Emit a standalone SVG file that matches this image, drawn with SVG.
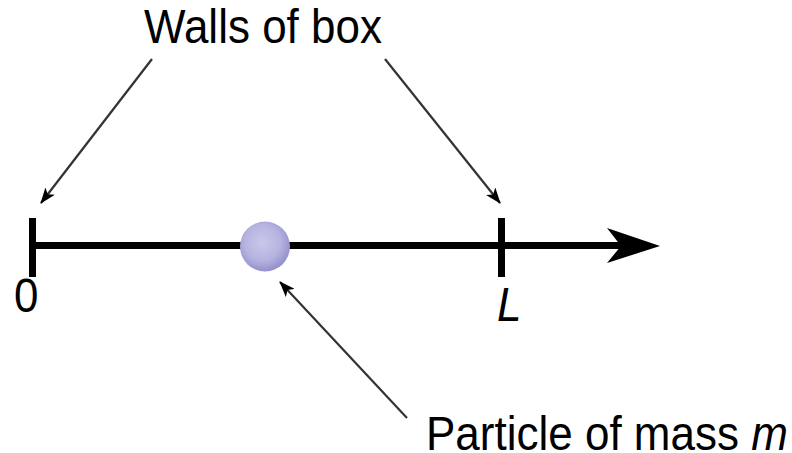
<svg xmlns="http://www.w3.org/2000/svg" width="792" height="453" viewBox="0 0 792 453">
  <style>
    .lbl { font-family: "Liberation Sans", Arial, sans-serif; font-size: 44px; fill: #000; }
    .axis { stroke: #000; stroke-width: 7; fill: none; }
    .ptr { stroke: #333; stroke-width: 2.2; fill: none; marker-end: url(#head); }
  </style>
  <defs>
    <marker id="head" viewBox="0 0 16 12" refX="15" refY="6" markerWidth="16" markerHeight="12" markerUnits="userSpaceOnUse" orient="auto">
      <path d="M0,0 L16,6 L0,12 L4,6 Z" fill="#000"/>
    </marker>
    <radialGradient id="ball" cx="0.45" cy="0.42" r="0.6">
      <stop offset="0" stop-color="#cac8ea"/>
      <stop offset="0.6" stop-color="#b6b3e0"/>
      <stop offset="1" stop-color="#908dcb"/>
    </radialGradient>
  </defs>

  <g id="axis">
    <line class="axis" x1="32" y1="245.5" x2="625" y2="245.5"/>
    <path d="M660,246 L607,228 L621,246 L607,263 Z" fill="#000"/>
  </g>

  <g id="wall-left">
    <line class="axis" x1="32.5" y1="218" x2="32.5" y2="277"/>
    <text class="lbl" transform="translate(14,312) scale(1,1.1)">0</text>
  </g>

  <g id="wall-right">
    <line class="axis" x1="501.5" y1="218" x2="501.5" y2="277"/>
    <text class="lbl" font-style="italic" transform="translate(497,321) scale(1,1.1)">L</text>
  </g>

  <g id="particle">
    <circle cx="265" cy="246.5" r="25" fill="url(#ball)"/>
  </g>

  <g id="label-walls">
    <text class="lbl" transform="translate(144,43) scale(1,1.1)">Walls of box</text>
  </g>

  <g id="label-particle">
    <text class="lbl" transform="translate(426,450) scale(1,1.1)">Particle of mass <tspan font-style="italic">m</tspan></text>
  </g>

  <g id="connectors">
    <line class="ptr" x1="152" y1="59" x2="41" y2="203"/>
    <line class="ptr" x1="385" y1="59" x2="500" y2="203"/>
    <line class="ptr" x1="407" y1="418" x2="280" y2="282"/>
  </g>
</svg>
